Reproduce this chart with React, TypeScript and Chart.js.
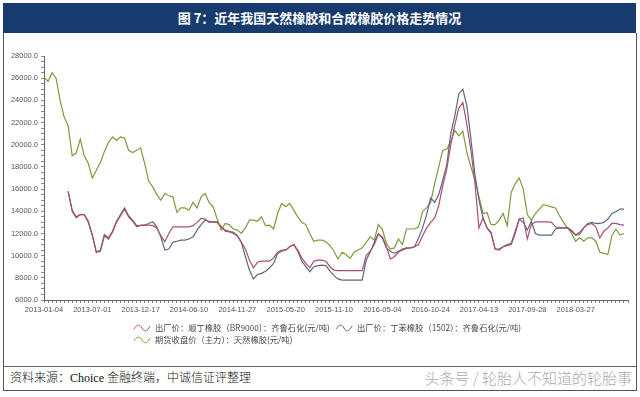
import React, { useEffect, useRef } from 'react';
import { Chart, registerables } from 'chart.js';

Chart.register(...registerables);

// ---- Data ----
const TICK_DATES = [
  '2013-01-04', '2013-07-01', '2013-12-17', '2014-06-10', '2014-11-27', '2015-05-20',
  '2015-11-10', '2016-05-04', '2016-10-24', '2017-04-13', '2017-09-28', '2018-03-27',
];
const POINTS_PER_TICK = 12;
const N_CATEGORIES = 146;

const SERIES_NAMES = [
  '出厂价：顺丁橡胶（BR9000）：齐鲁石化(元/吨)',
  '出厂价：丁苯橡胶（1502）：齐鲁石化(元/吨)',
  '期货收盘价（主力）：天然橡胶(元/吨)',
];

const BR9000 = [
  null, null, null, null, null, null, 15800, 14000, 13400, 13700,
  13700, 13000, 11800, 10300, 10400, 11800, 11500, 12100, 13000, 13600,
  14200, 13500, 13100, 12600, 12750, 12750, 12750, 12700, 12500, 11800,
  11250, 12000, 12600, 12600, 12600, 12600, 12600, 12700, 13000, 13350,
  13300, 13000, 13050, 13000, 12600, 12200, 12150, 12000, 11800, 11200,
  10600, 9600, 8900, 9400, 9500, 9500, 9500, 9800, 10300, 10500,
  10500, 10800, 11000, 10500, 9800, 9300, 8900, 9500, 9600, 9600,
  9500, 9000, 8700, 8650, 8650, 8650, 8650, 8650, 8650, 8650,
  10000, 10400, 11000, 11900, 11700, 10800, 9700, 9900, 10300, 10500,
  10650, 10700, 10800, 11000, 11800, 12500, 13000, 13400, 14500, 16300,
  17800, 20000, 21800, 23300, 23800, 21800, 19500, 16500, 12500, 13400,
  12500, 12000, 10600, 10500, 10800, 10900, 11000, 12000, 13300, 13400,
  11500, 12800, 13050, 13050, 13050, 13050, 13000, 12600, 12500, 12500,
  12500, 12200, 11850, 11900, 12500, 12800, 12900, 12600, 11600, 12200,
  12500, 12900, 12900, 12800, 12750,
];

const SBR1502 = [
  null, null, null, null, null, null, 15800, 14100, 13500, 13700,
  13700, 13100, 11900, 10300, 10500, 11900, 11600, 12200, 13100, 13700,
  14300, 13600, 13200, 12700, 12700, 12750, 12900, 13050, 12600, 11700,
  10500, 10600, 11200, 11300, 11400, 11400, 11500, 11700, 12300, 12800,
  13200, 13100, 13050, 13050, 12600, 12300, 12200, 12100, 11800, 11200,
  9900, 8700, 7900, 8300, 8400, 8600, 8900, 9300, 10200, 10400,
  10500, 10800, 11000, 10400, 9500, 9000, 8550, 9000, 9100, 9150,
  9100, 8600, 8200, 7900, 7800, 7800, 7800, 7800, 7800, 7800,
  9600, 10300, 11200, 12000, 11600, 10700, 10400, 10200, 10400, 10600,
  10700, 10700, 10800, 11600, 12500, 13700, 15200, 14800, 15500, 16800,
  18200, 21000, 22600, 24600, 25000, 23500, 20500, 17300, 15000, 13400,
  12500, 12100, 10600, 10600, 10800, 11000, 11100, 12200, 13300, 13000,
  12300, 13100, 12000, 11850, 11850, 11850, 11850, 12400, 12500, 12500,
  12500, 12300, 11850, 12100, 12500, 12900, 13000, 12900, 12900, 13000,
  13300, 13800, 13950, 14200, 14200,
];

const NR_FUTURES = [
  26100, 25700, 26500, 26000, 24000, 22500, 21700, 19000, 19250, 20500,
  19000, 18300, 17000, 17700, 18400, 19400, 20200, 20700, 20400, 20700,
  20600, 19500, 19300, 19500, 19700, 18300, 16700, 16200, 15500, 15000,
  15600, 15400, 15300, 13900, 14300, 14300, 14100, 14800, 14300, 15300,
  15600, 14800, 14400, 13300, 12300, 12900, 12800, 12400, 12300, 12000,
  12500, 13200, 13200, 13100, 13500, 12700, 12750, 12400, 13800, 14700,
  14400, 14700, 14100, 13500, 13000, 12800, 12000, 11300, 11400, 11400,
  11250, 10900, 10400, 9700, 10300, 10100, 9750, 10300, 10500, 10700,
  11200, 11700, 11400, 12800, 12400, 11100, 10600, 10700, 11500, 11000,
  12400, 12400, 12400, 12600, 14000, 14300, 14800, 16500, 18000, 19500,
  19600, 20300, 21300, 20800, 21200, 19300, 18000, 16800, 15300, 13800,
  13900, 12800, 12800, 13200, 13800, 12700, 15700, 16500, 17000, 16000,
  13700, 13200, 13800, 14200, 14600, 14500, 14400, 14300, 13600, 13000,
  12500, 12000, 11300, 11600, 11300, 11600, 11600, 11300, 10300, 10200,
  10100, 11800, 12400, 11850, 12000,
];

const Y_MIN = 6000;
const Y_MAX = 28000;
const Y_MAJOR = 2000;
const Y_MINOR = 500;

const COLORS = ['#a9506a', '#5d6780', '#7f9a3e'];

const TICK_FONT = { family: '"Liberation Sans", Arial, sans-serif', size: 7.5 };
const CJK = '"Noto Sans CJK SC", "Noto Sans", sans-serif';

function Wave({ color }: { color: string }) {
  return (
    <svg width="18" height="9" style={{ display: 'block', marginRight: 4, flex: 'none' }}>
      <path d="M1 6 C 4 1, 7 1, 9 5 S 14 9, 17 3" fill="none" stroke={color} strokeWidth="1" />
    </svg>
  );
}

function LegendItem({ left, top, k }: { left: number; top: number; k: number }) {
  return (
    <div style={{
      position: 'absolute', left, top, display: 'flex', alignItems: 'center', whiteSpace: 'nowrap',
      fontFamily: CJK, fontSize: 8.3, color: '#4a4a4a', lineHeight: '12px',
    }}>
      <Wave color={COLORS[k]} />
      <span>{SERIES_NAMES[k]}</span>
    </div>
  );
}

export default function App() {
  const ref = useRef<HTMLCanvasElement>(null);

  useEffect(() => {
    const labels = Array.from({ length: N_CATEGORIES }, (_, i) =>
      i % POINTS_PER_TICK === 0 && TICK_DATES[i / POINTS_PER_TICK] ? TICK_DATES[i / POINTS_PER_TICK] : ''
    );
    const series = [BR9000, SBR1502, NR_FUTURES];
    const chart = new Chart(ref.current as HTMLCanvasElement, {
      type: 'line',
      data: {
        labels,
        datasets: series.map((d, k) => ({
          label: SERIES_NAMES[k],
          data: d,
          borderColor: COLORS[k],
          backgroundColor: COLORS[k],
          borderWidth: 1.2,
          pointRadius: 0,
          tension: 0,
          spanGaps: false,
        })),
      },
      options: {
        animation: false,
        responsive: false,
        maintainAspectRatio: false,
        layout: { padding: { top: 20, right: 8, left: 0, bottom: 0 } },
        plugins: { legend: { display: false }, tooltip: { enabled: false }, title: { display: false } },
        scales: {
          x: {
            type: 'category',
            grid: { drawOnChartArea: false, tickLength: 3, color: '#888' },
            border: { color: '#666', width: 1 },
            ticks: {
              autoSkip: false,
              maxRotation: 0,
              minRotation: 0,
              padding: 2,
              color: '#555',
              font: TICK_FONT,
              callback: (_v: any, i: number) => labels[i],
            },
            afterFit: (s: any) => { s.height = 26; },
          },
          y: {
            min: Y_MIN,
            max: Y_MAX,
            grid: { drawOnChartArea: false, tickLength: 3, color: '#888' },
            border: { color: '#666', width: 1 },
            ticks: {
              stepSize: Y_MINOR,
              autoSkip: false,
              padding: 3,
              color: '#555',
              font: TICK_FONT,
              callback: (v: any) => (Number(v) % Y_MAJOR === 0 ? Number(v).toFixed(1) : ''),
            },
            afterFit: (s: any) => { s.width = 44; },
          },
        },
      },
    });
    return () => chart.destroy();
  }, []);

  return (
    <div style={{ position: 'absolute', left: 0, top: 0, width: 640, height: 397, background: '#fff', overflow: 'hidden' }}>
      <div style={{
        position: 'absolute', left: 3, top: 3, width: 633, height: 30, background: '#183b6e',
        color: '#fff', fontFamily: CJK, fontWeight: 700, fontSize: 13, lineHeight: '30px', textAlign: 'center',
      }}>
        图 7：近年我国天然橡胶和合成橡胶价格走势情况
      </div>
      <div style={{
        position: 'absolute', left: 3, top: 33, width: 632, height: 357,
        borderLeft: '1px solid #555', borderRight: '1px solid #555', borderBottom: '1px solid #555',
      }} />
      <canvas ref={ref} width={636} height={290} style={{ position: 'absolute', left: 0, top: 36, display: 'block' }} />
      <LegendItem left={133} top={321} k={0} />
      <LegendItem left={335} top={321} k={1} />
      <LegendItem left={133} top={333} k={2} />
      <div style={{ position: 'absolute', left: 3, top: 366, width: 633, height: 1, background: '#666' }} />
      <div style={{
        position: 'absolute', left: 10, top: 370, fontFamily: '"Liberation Serif", "Noto Sans CJK SC", serif',
        fontSize: 12, fontWeight: 300, color: '#111', lineHeight: '16px', whiteSpace: 'nowrap',
      }}>
        资料来源：Choice 金融终端，中诚信证评整理
      </div>
      <div style={{
        position: 'absolute', right: 8, top: 368, fontFamily: CJK, fontWeight: 300,
        fontSize: 15, color: '#aaa', lineHeight: '20px', whiteSpace: 'nowrap',
      }}>
        头条号 / 轮胎人不知道的轮胎事
      </div>
    </div>
  );
}
